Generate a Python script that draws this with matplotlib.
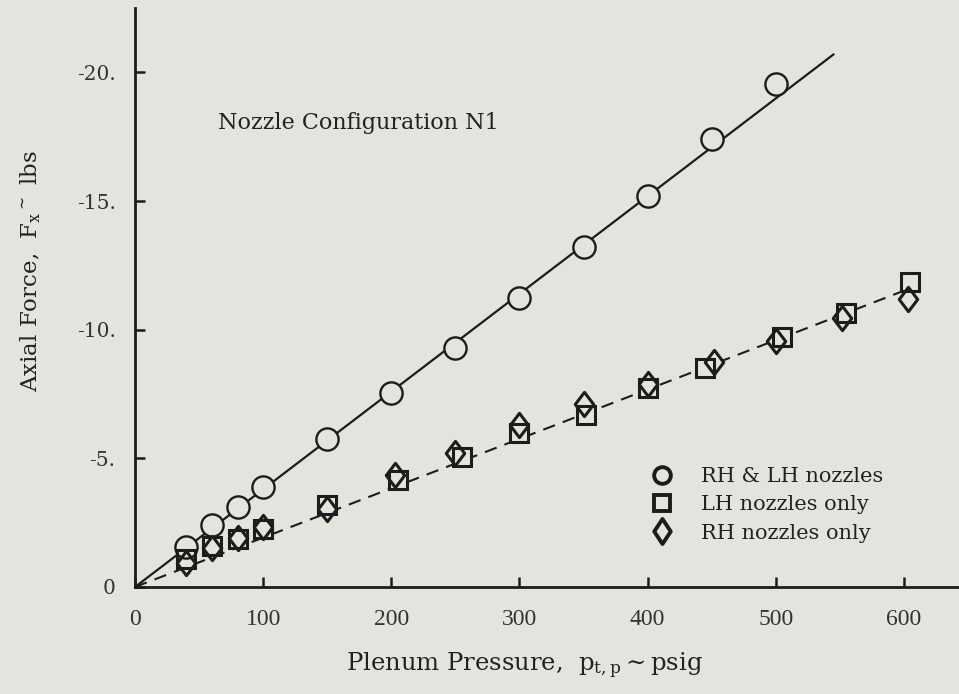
import matplotlib
matplotlib.use('Agg')
import matplotlib.pyplot as plt
from matplotlib.lines import Line2D
from matplotlib.path import Path

# RH & LH nozzles (circles)
p_both = [40, 60, 80, 100, 150, 200, 250, 300, 350, 400, 450, 500]
fx_both = [-1.55, -2.4, -3.1, -3.9, -5.75, -7.55, -9.3, -11.25, -13.2, -15.2, -17.4, -19.55]

# LH nozzles only (squares)
p_lh = [40, 60, 80, 100, 150, 205, 255, 300, 352, 400, 445, 505, 555, 605]
fx_lh = [-1.1, -1.6, -1.85, -2.25, -3.2, -4.15, -5.05, -6.0, -6.7, -7.75, -8.5, -9.7, -10.65, -11.85]

# RH nozzles only (diamonds)
p_rh = [40, 60, 80, 100, 150, 203, 250, 300, 350, 400, 452, 500, 552, 603]
fx_rh = [-0.95, -1.5, -1.9, -2.35, -3.05, -4.35, -5.2, -6.3, -7.1, -7.9, -8.75, -9.55, -10.45, -11.2]

# faired lines
fit_p_both = [0, 545]
fit_fx_both = [0, -20.7]
fit_p_single = [0, 607]
fit_fx_single = [0, -11.65]

x_ticks = [0, 100, 200, 300, 400, 500, 600]
x_tick_labels = ['0', '100', '200', '300', '400', '500', '600']
y_ticks = [0, -5, -10, -15, -20]
y_tick_labels = ['0', '-5.', '-10.', '-15.', '-20.']

labels = ['RH & LH nozzles', 'LH nozzles only', 'RH nozzles only']

bg = '#e3e4dd'
ink = '#1c1c1c'
serif = 'DejaVu Serif'
plt.rcParams['mathtext.fontset'] = 'dejavuserif'


def diamond(ratio):
    # diamond taller than wide
    return Path([(0, 1), (ratio, 0), (0, -1), (-ratio, 0), (0, 1)],
                [Path.MOVETO, Path.LINETO, Path.LINETO, Path.LINETO, Path.CLOSEPOLY])


data_diamond = diamond(0.76)
leg_diamond = diamond(0.66)

fig = plt.figure(figsize=(9.59, 6.94), dpi=100, facecolor=bg)
ax = fig.add_axes([0.1408, 0.1542, 0.8592, 0.834])
ax.set_facecolor(bg)

ax.plot(fit_p_both, fit_fx_both, '-', color=ink, lw=1.6, zorder=2)
ax.plot(fit_p_single, fit_fx_single, '--', color=ink, lw=1.5, dashes=(6, 4), zorder=2)

ax.plot(p_both, fx_both, 'o', ms=16, mfc=bg, mec=ink, mew=1.7, zorder=4)
# fill first so the dashed line is hidden, then outlines so both show
ax.plot(p_lh, fx_lh, 's', ms=12.5, mfc=bg, mec='none', zorder=3)
ax.plot(p_rh, fx_rh, marker=data_diamond, ls='none', ms=17.5, mfc=bg, mec='none', zorder=3)
ax.plot(p_lh, fx_lh, 's', ms=12.5, mfc='none', mec=ink, mew=2.2, zorder=4)
ax.plot(p_rh, fx_rh, marker=data_diamond, ls='none', ms=17.5, mfc='none', mec=ink, mew=2.2, zorder=4)

ax.set_xlim(0, 643)
ax.set_ylim(0, -22.5)

for s in ['top', 'right']:
    ax.spines[s].set_visible(False)
for s in ['left', 'bottom']:
    ax.spines[s].set_linewidth(2.0)
    ax.spines[s].set_color(ink)

ax.set_xticks(x_ticks)
ax.set_xticklabels(x_tick_labels, fontfamily='Liberation Serif', fontsize=17, color='#333333')
ax.set_yticks(y_ticks)
ax.set_yticklabels(y_tick_labels, fontfamily=serif, fontsize=14.5, color='#333333')
ax.tick_params(axis='both', direction='in', length=7, width=1.8, color=ink)
ax.tick_params(axis='x', pad=16)
ax.tick_params(axis='y', pad=14)

ax.set_xlabel(r'Plenum Pressure,  p$_{\mathrm{t,p}}$$\sim$psig', fontfamily=serif,
              fontsize=17.5, color='#222222')
ax.xaxis.set_label_coords(0.473, -0.11)
ax.set_ylabel(r'Axial Force,  F$_{\mathrm{x}}$$^{\sim}$ lbs', fontfamily=serif,
              fontsize=16.5, color='#222222')
ax.yaxis.set_label_coords(-0.112, 0.546)

ax.text(65, -18.05, 'Nozzle Configuration N1', fontfamily=serif, fontsize=16,
        color='#222222', ha='left', va='center')

handles = [
    Line2D([], [], ls='none', marker='o', ms=12, mfc='none', mec=ink, mew=2.8),
    Line2D([], [], ls='none', marker='s', ms=11.5, mfc='none', mec=ink, mew=2.8),
    Line2D([], [], ls='none', marker=leg_diamond, ms=18, mfc='none', mec=ink, mew=2.8),
]
leg = ax.legend(handles, labels, loc='upper left', bbox_to_anchor=(0.614, 0.225),
                frameon=False, handlelength=1.0, handletextpad=1.4, labelspacing=0.44,
                prop={'family': serif, 'size': 15}, borderpad=0)
for t in leg.get_texts():
    t.set_color('#222222')

fig.savefig('out.png', dpi=100, facecolor=bg)
